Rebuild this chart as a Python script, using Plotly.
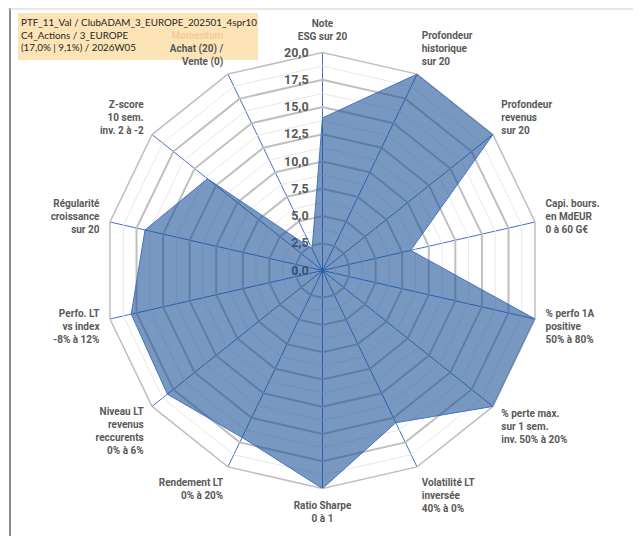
import numpy as np
import plotly.graph_objects as go

# =======================
# Données du radar
# =======================

axes_labels = [
    "Note<br>ESG sur 20",
    "Profondeur<br>historique<br>sur 20",
    "Profondeur<br>revenus<br>sur 20",
    "Capi. bours.<br>en MdEUR<br>0 à 60 G€",
    "% perfo 1A<br>positive<br>50% à 80%",
    "% perte max.<br>sur 1 sem.<br>inv. 50% à 20%",
    "Volatilité LT<br>inversée<br>40% à 0%",
    "Ratio Sharpe<br>0 à 1",
    "Rendement LT<br>0% à 20%",
    "Niveau LT<br>revenus<br>reccurents<br>0% à 6%",
    "Perfo. LT<br>vs index<br>-8% à 12%",
    "Régularité<br>croissance<br>sur 20",
    "Z-score<br>10 sem.<br>inv. 2 à -2",
    "<span style='color:#F2CC99'>Momentum</span><br>Achat (20) /<br>Vente (0)",
]

scores = [14.0, 20.0, 20.0, 8.3, 20.0, 20.0, 15.5, 20.0, 17.0, 18.2, 18.0, 16.7, 13.5, 2.2]

radial_ticks = [0, 2.5, 5, 7.5, 10, 12.5, 15, 17.5, 20]

title_lines = [
    "PTF_11_Val / ClubADAM_3_EUROPE_202501_4spr10",
    "C4_Actions / 3_EUROPE",
    "(17,0% | 9,1%) / 2026W05",
]

W, H = 641, 536
# centre voulu (322, 270.5) -> correction empirique du placement plotly
cx, cy, R = 314.5, 262.5, 218

GRAY = "#595959"
LABEL_FONT = "Roboto"

fig = go.Figure()

# Lignes secondaires (entre les graduations principales)
cats_closed = axes_labels + [axes_labels[0]]
for lvl in np.array(radial_ticks[1:]) - 1.25:
    fig.add_trace(go.Scatterpolar(
        r=[lvl] * len(cats_closed),
        theta=cats_closed,
        mode="lines",
        line=dict(color="#E8E8E8", width=1),
        hoverinfo="skip",
        showlegend=False,
    ))

# Série principale
fig.add_trace(go.Scatterpolar(
    r=scores + [scores[0]],
    theta=cats_closed,
    mode="lines",
    fill="toself",
    fillcolor="rgba(22,78,150,0.58)",
    line=dict(color="#4472C4", width=1),
    showlegend=False,
))

fig.update_layout(
    width=W,
    height=H,
    margin=dict(l=0, r=0, t=0, b=0),
    paper_bgcolor="white",
    plot_bgcolor="white",
    showlegend=False,
    polar=dict(
        domain=dict(x=[(cx - R) / W, (cx + R) / W],
                    y=[(H - cy - R) / H, (H - cy + R) / H]),
        gridshape="linear",
        bgcolor="white",
        radialaxis=dict(
            range=[0, 20],
            tickvals=radial_ticks,
            ticktext=["<b>" + f"{v:.1f}".replace(".", ",") + "</b>" for v in radial_ticks],
            angle=90,
            tickangle=90,
            side="counterclockwise",
            showline=False,
            ticks="outside",
            ticklen=9,
            tickcolor="rgba(0,0,0,0)",
            layer="below traces",
            gridcolor="#BFBFBF",
            gridwidth=1.5,
            tickfont=dict(family=LABEL_FONT, size=12.5, color=GRAY),
        ),
        angularaxis=dict(
            direction="clockwise",
            rotation=90,
            tickmode="array",
            tickvals=axes_labels,
            ticktext=["<b>" + t + "</b>" for t in axes_labels],
            showline=True,
            linecolor="#BFBFBF",
            linewidth=1.5,
            gridcolor="#4472C4",
            gridwidth=1,
            ticks="outside",
            ticklen=8,
            tickcolor="rgba(0,0,0,0)",
            layer="below traces",
            tickfont=dict(family=LABEL_FONT, size=10, color=GRAY),
        ),
    ),
)

# Cartouche du titre
fig.add_shape(
    type="rect", xref="paper", yref="paper", layer="below",
    x0=10 / W, x1=250 / W, y0=1 - 52 / H, y1=1 - 5 / H,
    fillcolor="#FCE4B6", line=dict(width=0),
)
fig.add_annotation(
    text="<br>".join(title_lines),
    xref="paper", yref="paper",
    x=11 / W, y=1 - 6 / H,
    xanchor="left", yanchor="top",
    align="left",
    showarrow=False,
    font=dict(family="Lato", size=9.8, color="#262626"),
)

# Cadre du graphique
fig.add_shape(type="line", xref="paper", yref="paper", x0=2 / W, x1=2 / W, y0=0, y1=1,
              line=dict(color="#8C8C8C", width=2))
fig.add_shape(type="line", xref="paper", yref="paper", x0=0, x1=632 / W, y0=1 - 1 / H, y1=1 - 1 / H,
              line=dict(color="#D0D0D0", width=1))
fig.add_shape(type="line", xref="paper", yref="paper", x0=632 / W, x1=632 / W, y0=1 - 533 / H, y1=1,
              line=dict(color="#E0E0E0", width=1))
fig.add_shape(type="line", xref="paper", yref="paper", x0=640 / W, x1=640 / W, y0=0, y1=1,
              line=dict(color="#9A9A9A", width=1.5))
fig.add_shape(type="line", xref="paper", yref="paper", x0=0, x1=1, y0=1 - 533 / H, y1=1 - 533 / H,
              line=dict(color="#6FA07A", width=2))

fig.write_html("out.html")
